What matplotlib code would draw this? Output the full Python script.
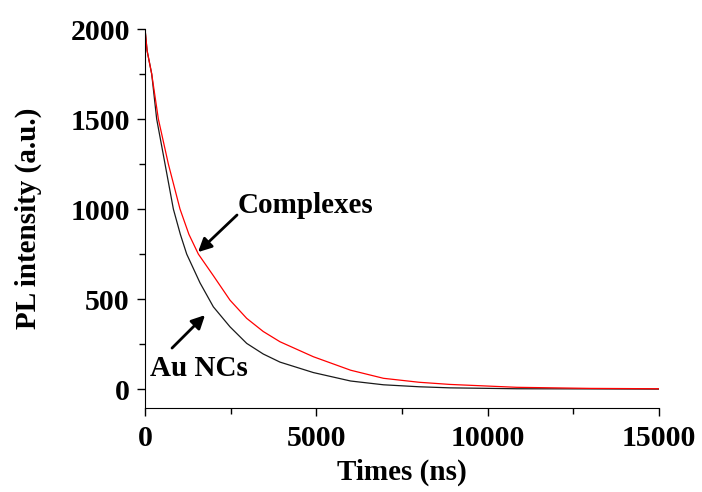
import numpy as np
import matplotlib
matplotlib.use("Agg")
import matplotlib.pyplot as plt
from matplotlib.ticker import MultipleLocator

plt.rcParams['font.family'] = ['Liberation Serif', 'DejaVu Serif']
plt.rcParams['font.weight'] = 'bold'

# Au NCs decay (black)
t_au = [0, 60, 195, 340, 584, 827, 1030, 1216, 1605, 1994, 2480, 2967, 3450,
        3939, 4911, 6000, 6960, 8000, 8900, 10850, 13000, 15000]
pl_au = [2000, 1880, 1750, 1500, 1250, 1000, 860, 750, 590, 457, 346, 254, 195,
         150, 92, 45, 24, 13, 7, 2, 1, 0]

# Complexes decay (red)
t_cx = [0, 60, 195, 389, 681, 1021, 1280, 1556, 1994, 2480, 2967, 3450, 3939,
        4911, 6000, 6960, 8000, 8900, 10850, 13000, 15000]
pl_cx = [2000, 1880, 1750, 1500, 1250, 1000, 860, 750, 630, 494, 393, 320, 263,
         180, 105, 60, 38, 26, 10, 4, 2]

fig = plt.figure(figsize=(7.02, 4.92), dpi=100)
ax = fig.add_axes([0.2066, 0.1707, 0.7321, 0.7703])

ax.plot(t_au, pl_au, color='#1a1a1a', lw=0.9)
ax.plot(t_cx, pl_cx, color='red', lw=0.9)

ax.set_xlim(0, 15000)
ax.set_ylim(-105, 2000)
ax.spines['top'].set_visible(False)
ax.spines['right'].set_visible(False)
ax.xaxis.set_major_locator(MultipleLocator(5000))
ax.xaxis.set_minor_locator(MultipleLocator(2500))
ax.yaxis.set_major_locator(MultipleLocator(500))
ax.yaxis.set_minor_locator(MultipleLocator(250))
ax.tick_params(which='major', direction='out', length=6, width=1)
ax.tick_params(which='minor', direction='out', length=4, width=1)
ax.tick_params(axis='y', which='major', pad=5, labelsize=21.5)
ax.tick_params(axis='x', which='major', pad=6, labelsize=21.5)

ax.set_xlabel('Times (ns)', fontsize=21, fontweight='bold', labelpad=5)
ax.set_ylabel('PL intensity (a.u.)', fontsize=21, fontweight='bold', labelpad=20)

arrow = dict(arrowstyle='-|>', lw=2, color='k', mutation_scale=20,
             shrinkA=0, shrinkB=0)
ax.annotate('', xy=(1547, 761), xytext=(2685, 967), arrowprops=arrow)
ax.text(2700, 1022, 'Complexes', fontsize=21, fontweight='bold',
        ha='left', va='center')
ax.annotate('', xy=(1751, 411), xytext=(788, 228), arrowprops=arrow)
ax.text(146, 117, 'Au NCs', fontsize=21, fontweight='bold',
        ha='left', va='center')

fig.savefig('out.png', dpi=100)
